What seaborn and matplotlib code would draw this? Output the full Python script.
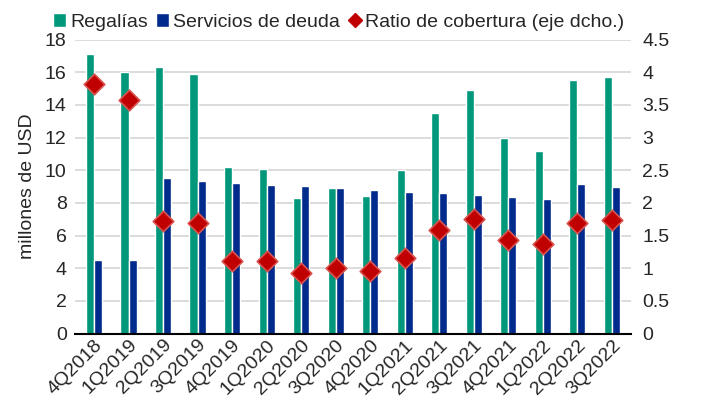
import numpy as np
import matplotlib
matplotlib.use("Agg")
import matplotlib.pyplot as plt
from matplotlib.lines import Line2D
from matplotlib.patches import Patch
import seaborn as sns
import pandas as pd

quarters = ["4Q2018", "1Q2019", "2Q2019", "3Q2019", "4Q2019", "1Q2020", "2Q2020", "3Q2020",
            "4Q2020", "1Q2021", "2Q2021", "3Q2021", "4Q2021", "1Q2022", "2Q2022", "3Q2022"]
regalias = [17.1, 16.0, 16.3, 15.9, 10.2, 10.1, 8.3, 8.9, 8.4, 10.0, 13.5, 14.9, 12.0, 11.2, 15.5, 15.7]
deuda = [4.5, 4.5, 9.5, 9.35, 9.25, 9.1, 9.05, 8.9, 8.8, 8.7, 8.6, 8.5, 8.35, 8.25, 9.15, 9.0]
ratio = [3.82, 3.58, 1.72, 1.70, 1.11, 1.11, 0.93, 1.0, 0.96, 1.15, 1.58, 1.76, 1.44, 1.37, 1.70, 1.74]

green = "#00977A"
navy = "#002A8C"
red = "#C00000"

bars = pd.DataFrame({
    "q": quarters * 2,
    "val": regalias + deuda,
    "serie": ["Regalías"] * len(quarters) + ["Servicios de deuda"] * len(quarters),
})
rat = pd.DataFrame({"q": quarters, "ratio": ratio})

sns.set_style("white")
plt.rcParams["font.family"] = ["Liberation Sans", "DejaVu Sans"]

fig, ax = plt.subplots(figsize=(7.01, 4.17), dpi=100)
fig.subplots_adjust(left=0.107, right=0.9, top=0.905, bottom=0.2)

sns.barplot(data=bars, x="q", y="val", hue="serie", palette=[green, navy],
            width=0.47, gap=0, ax=ax, legend=False, saturation=1)
ax.set_ylim(0, 18)
ax.set_yticks(np.arange(0, 19, 2))
ax.yaxis.grid(True, color="#d9d9d9", lw=1.3)
ax.set_axisbelow(True)
ax.set_xlabel("")
ax.set_ylabel("millones de USD", fontsize=14, labelpad=6)
ax.tick_params(axis="y", labelsize=14, length=0, pad=6)
ax.tick_params(axis="x", labelsize=14, length=0, pad=2)
plt.setp(ax.get_xticklabels(), rotation=45, ha="right", rotation_mode="anchor")
for s in ["top", "left", "right"]:
    ax.spines[s].set_visible(False)
ax.spines["bottom"].set_color("black")
ax.spines["bottom"].set_linewidth(1.5)
ax.set_xlim(-0.55, len(quarters) - 0.45)

ax2 = ax.twinx()
sns.scatterplot(data=rat, x="q", y="ratio", marker="D", s=110, color=red,
                edgecolor="#D9534F", linewidth=1.2, ax=ax2, zorder=5, legend=False)
ax2.set_ylim(0, 4.5)
ax2.set_yticks(np.arange(0, 4.6, 0.5))
ax2.set_yticklabels(["0", "0.5", "1", "1.5", "2", "2.5", "3", "3.5", "4", "4.5"])
ax2.set_ylabel("")
ax2.tick_params(axis="y", labelsize=14, length=0, pad=8)
for s in ["top", "left", "right", "bottom"]:
    ax2.spines[s].set_visible(False)

handles = [
    Patch(facecolor=green, label="Regalías"),
    Patch(facecolor=navy, label="Servicios de deuda"),
    Line2D([], [], marker="D", ls="none", color=red, markersize=7, label="Ratio de cobertura (eje dcho.)"),
]
fig.legend(handles=handles, loc="upper left", bbox_to_anchor=(0.05, 1.01), ncol=3, frameon=False,
           fontsize=14, handlelength=0.7, handleheight=0.7, handletextpad=0.2, columnspacing=0.4)

fig.savefig("out.png", dpi=100)
